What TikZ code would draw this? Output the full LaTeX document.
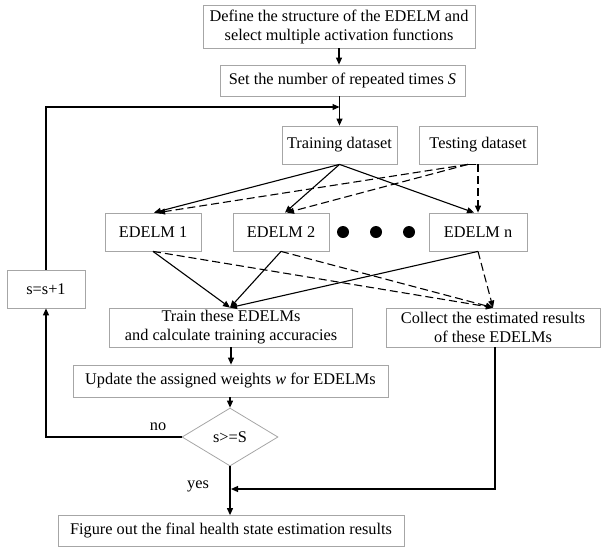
\documentclass[tikz,border=0pt]{standalone}
\usepackage{fontspec}
\setmainfont{Liberation Serif}
\usetikzlibrary{shapes.geometric,arrows.meta}
\begin{document}
\begin{tikzpicture}[x=1pt,y=-1pt,
  box/.style={draw=gray!70, line width=0.8pt, rectangle, inner sep=0pt, align=center, font=\fontsize{16.3}{19}\selectfont},
  lbl/.style={inner sep=0pt, font=\fontsize{16.3}{19}\selectfont},
  arr/.style={line width=1.1pt, -{Triangle[length=7pt,width=6pt]}},
  ln/.style={line width=1.1pt},
  dsh/.style={line width=1.1pt, dash pattern=on 8pt off 4pt, -{Triangle[length=7pt,width=6pt]}},
  dotn/.style={circle, fill=black, minimum size=12pt, inner sep=0pt}]
\useasboundingbox (0,0) rectangle (601,547);
\node[box, minimum width=272pt, minimum height=43pt] (b1) at (339,26.5) {Define the structure of the EDELM and\\select multiple activation functions};
\node[box, minimum width=245pt, minimum height=31pt] (b2) at (342.5,80.5) {Set the number of repeated times \textit{S}};
\node[box, minimum width=115pt, minimum height=38pt] (tr) at (339.5,145) {Training dataset};
\node[box, minimum width=118pt, minimum height=38pt] (te) at (478,145) {Testing dataset};
\node[box, minimum width=96pt, minimum height=38pt] (e1) at (153,232) {EDELM 1};
\node[box, minimum width=96pt, minimum height=38pt] (e2) at (281,232) {EDELM 2};
\node[box, minimum width=98pt, minimum height=38pt] (en) at (478,232) {EDELM n};
\node[dotn] (d1) at (343,232) {};
\node[dotn] (d2) at (376,232) {};
\node[dotn] (d3) at (409,232) {};
\node[box, minimum width=78pt, minimum height=38pt] (ss) at (46,289) {s=s+1};
\node[box, minimum width=243pt, minimum height=39pt] (trn) at (231,327.5) {Train these EDELMs\\and calculate training accuracies};
\node[box, minimum width=214pt, minimum height=39pt] (co) at (493,327.5) {Collect the estimated results\\of these EDELMs};
\node[box, minimum width=315pt, minimum height=32pt] (up) at (230.5,381) {Update the assigned weights \textit{w} for EDELMs};
\node[box, diamond, aspect=1.65, minimum width=96pt, minimum height=58pt] (dm) at (230,437) {s>=S};
\node[box, minimum width=346pt, minimum height=31pt] (fin) at (231,531) {Figure out the final health state estimation results};
\node[lbl] (no) at (158,427) {no};
\node[lbl] (yes) at (198,486) {yes};
\coordinate (lp) at (339.5,107);
\coordinate (jn) at (231,489);
% spine
\draw[arr] (b1.south) -- (b1.south |- b2.north);
\draw[arr] (tr.north |- b2.south) -- (tr.north);
\draw[arr] (ss.north) -- (ss.north |- lp) -- (lp);
% training to EDELMs
\draw[arr] (tr.south) -- ([xshift=1pt]e1.north);
\draw[arr] (tr.south) -- ([xshift=4pt]e2.north);
\draw[arr] (tr.south) -- ([xshift=-4pt]en.north);
% testing to EDELMs
\draw[dsh] ([xshift=-10pt]te.south) -- ([xshift=5pt]e1.north);
\draw[dsh] ([xshift=-10pt]te.south) -- ([xshift=6pt]e2.north);
\draw[ln, dash pattern=on 8pt off 4pt] ([xshift=-10pt]te.south) -- (te.south);
\draw[dsh] (te.south) -- (te.south |- en.north);
% EDELMs to train
\draw[arr] (e1.south) -- ([xshift=-1pt]trn.north);
\draw[arr] (e2.south) -- ([xshift=-1pt]trn.north);
\draw[arr] (en.south) -- ([xshift=-1pt]trn.north);
% EDELMs to collect
\draw[dsh] (e1.south) -- (co.north);
\draw[dsh] (e2.south) -- (co.north);
\draw[dsh] (en.south) -- (co.north);
% lower
\draw[arr] (trn.south) -- (trn.south |- up.north);
\draw[arr] (dm.north |- up.south) -- (dm.north);
\draw[arr] (dm.west) -- (dm.west -| ss.south) -- (ss.south);
\draw[arr] (dm.south) -- (dm.south |- fin.north);
\draw[arr] ([xshift=2pt]co.south) -- ([xshift=2pt]co.south |- jn) -- (jn);
\end{tikzpicture}
\end{document}
